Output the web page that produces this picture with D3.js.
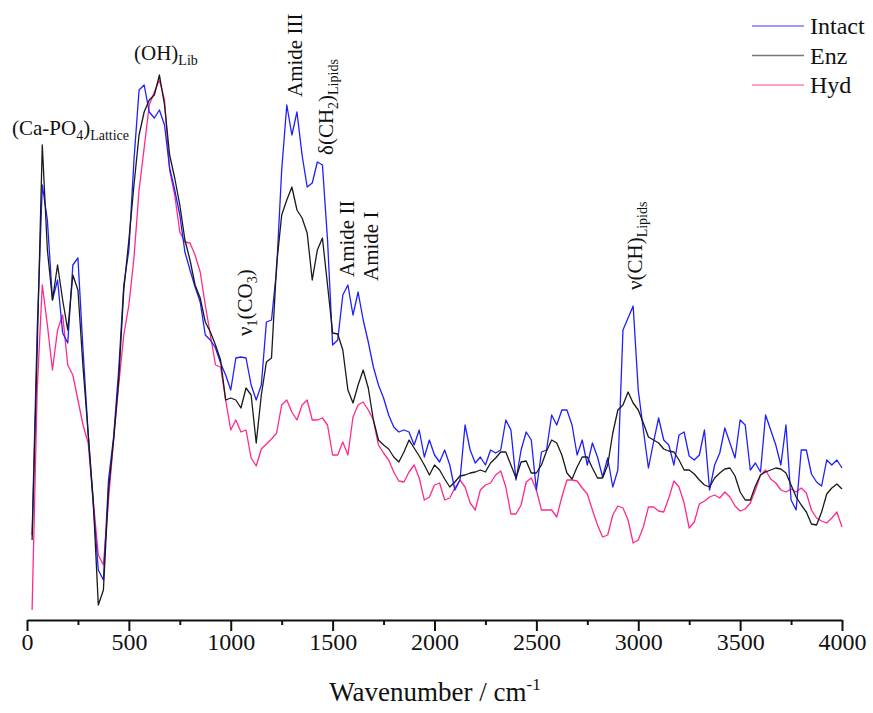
<!DOCTYPE html>
<html>
<head>
<meta charset="utf-8">
<script src="https://d3js.org/d3.v7.min.js"></script>
<style>
  body { margin: 0; background: #fff; }
  svg text { font-family: "Liberation Serif", "Times New Roman", serif; fill: #111; }
</style>
</head>
<body>
<div id="chart"></div>
<script>
// spectra sampled every 25 cm-1 (25 ... 4000)
var wavenumber = d3.range(25, 4001, 25);

var intact = [85,290,435,400,320,340,287,277,355,362,270,187,115,50,40,140,183,250,335,370,
  460,530,535,508,502,510,495,452,430,405,368,350,333,318,285,280,272,257,245,230,
  262,263,262,235,220,235,298,300,350,450,515,485,508,465,433,437,458,455,380,275,
  280,325,335,305,328,300,278,253,235,222,205,193,188,190,188,175,190,163,180,165,
  158,170,155,130,140,195,170,157,163,155,170,167,170,200,190,140,170,188,180,130,
  168,170,205,195,210,210,195,165,180,155,177,163,143,162,133,150,290,302,314,230,
  190,152,178,202,180,175,155,185,188,164,160,165,190,130,155,167,192,177,162,200,
  195,150,157,148,205,190,175,155,195,120,110,170,170,146,138,134,160,155,160,152];

var enz = [80,270,475,370,320,355,320,290,345,330,253,187,120,15,30,130,180,240,330,380,
  435,485,508,520,525,545,515,465,442,415,380,360,335,322,298,288,275,260,220,222,
  220,212,232,225,177,225,258,262,355,405,420,433,410,402,387,340,370,382,335,287,
  286,270,230,217,235,250,232,200,180,175,171,163,158,168,180,172,164,155,145,155,
  150,141,133,138,144,145,147,148,150,148,157,162,168,168,155,142,158,159,147,147,
  155,169,180,177,165,147,141,153,163,163,152,142,142,155,187,210,215,228,217,210,
  197,183,180,177,171,169,168,160,150,150,146,140,135,133,142,147,151,152,144,128,
  120,120,134,145,148,150,152,151,147,135,123,115,108,96,95,108,126,132,136,131];

var hyd = [10,230,335,295,250,290,305,255,245,220,195,177,120,65,55,120,180,235,285,315,
  362,430,472,515,528,540,520,450,425,388,378,377,365,348,315,285,255,253,220,190,
  200,188,190,162,154,171,176,181,187,215,220,208,200,215,220,200,200,202,195,165,
  165,178,165,203,215,218,210,200,175,167,160,148,139,138,148,155,142,120,123,135,
  137,120,122,132,140,133,117,110,130,135,137,145,149,133,106,106,115,138,142,130,
  110,110,110,103,123,140,140,139,132,126,110,95,83,85,105,114,112,100,77,80,
  93,113,113,109,108,122,139,133,117,92,98,116,119,123,125,122,128,123,114,109,
  111,117,130,145,150,141,137,130,128,131,128,132,127,110,102,99,97,102,108,93];

var seriesNames = ["Intact", "Enz", "Hyd"];
var seriesColors = ["#1f1fff", "#1a1a1a", "#ff2a8c"];
var majorTicks = [0, 500, 1000, 1500, 2000, 2500, 3000, 3500, 4000];
var minorTicks = [250, 750, 1250, 1750, 2250, 2750, 3250, 3750];

var W = 873, H = 713;

var svg = d3.select("#chart").append("svg")
    .attr("width", W).attr("height", H);

var x = d3.scaleLinear().domain([0, 4000]).range([27, 842]);
var y = d3.scaleLinear().domain([0, 560]).range([620, 60]);

var line = d3.line()
    .x(function(d, i) { return x(wavenumber[i]); })
    .y(function(d) { return y(d); });

// hyd first so the other two sit on top of it
[hyd, intact, enz].forEach(function(s) {
    var i = s === intact ? 0 : s === enz ? 1 : 2;
    svg.append("path")
        .datum(s)
        .attr("fill", "none")
        .attr("stroke", seriesColors[i])
        .attr("stroke-width", 1.3)
        .attr("stroke-linejoin", "round")
        .attr("d", line);
});

// axes
var gMinor = svg.append("g")
    .attr("transform", "translate(0,620)")
    .call(d3.axisBottom(x).tickValues(minorTicks).tickSize(5).tickFormat(""));
gMinor.select(".domain").remove();

var gx = svg.append("g")
    .attr("transform", "translate(0,620)")
    .call(d3.axisBottom(x).tickValues(majorTicks).tickSize(11).tickSizeOuter(0).tickPadding(2)
        .tickFormat(d3.format("d")));

svg.selectAll(".tick line").attr("stroke", "#111").attr("stroke-width", 2);
gx.select(".domain").attr("stroke", "#111").attr("stroke-width", 2);
gx.selectAll(".tick text")
    .style("font-family", "'Liberation Serif', serif")
    .style("font-size", "24px")
    .attr("fill", "#111");

var title = svg.append("text")
    .attr("x", 435).attr("y", 701)
    .attr("text-anchor", "middle")
    .style("font-size", "27px");
title.append("tspan").text("Wavenumber / cm");
title.append("tspan").attr("dy", -11).style("font-size", "17px").text("-1");

// legend
var legend = svg.append("g");
seriesNames.forEach(function(name, i) {
    var ly = 26 + i * 29.5;
    legend.append("line")
        .attr("x1", 752).attr("x2", 804)
        .attr("y1", ly).attr("y2", ly)
        .attr("stroke", seriesColors[i])
        .attr("stroke-opacity", 0.6)
        .attr("stroke-width", 1.6);
    legend.append("text")
        .attr("x", 810).attr("y", ly + 8)
        .style("font-size", "24px")
        .text(name);
});

// annotations
function label(parts, px, py, rotate) {
    var t = svg.append("text")
        .attr("transform", "translate(" + px + "," + py + ")" + (rotate ? " rotate(-90)" : ""))
        .style("font-size", "21px");
    var shift = 0;
    parts.forEach(function(p) {
        var sub = p[1];
        var dy = (sub ? 5 : 0) - shift;
        shift = sub ? 5 : 0;
        t.append("tspan")
            .attr("dy", dy)
            .style("font-size", sub ? "14px" : "21px")
            .text(p[0]);
    });
}

label([["(Ca-PO"], ["4", 1], [")"], ["Lattice", 1]], 12, 135, false);
label([["(OH)"], ["Lib", 1]], 134, 60, false);
label([["ν"], ["1", 1], ["(CO"], ["3", 1], [")"]], 252, 336, true);
label([["Amide III"]], 302, 97, true);
label([["δ(CH"], ["2", 1], [")"], ["Lipids", 1]], 333, 155, true);
label([["Amide II"]], 354, 277, true);
label([["Amide I"]], 378, 281, true);
label([["ν(CH)"], ["Lipids", 1]], 642, 290, true);
</script>
</body>
</html>
